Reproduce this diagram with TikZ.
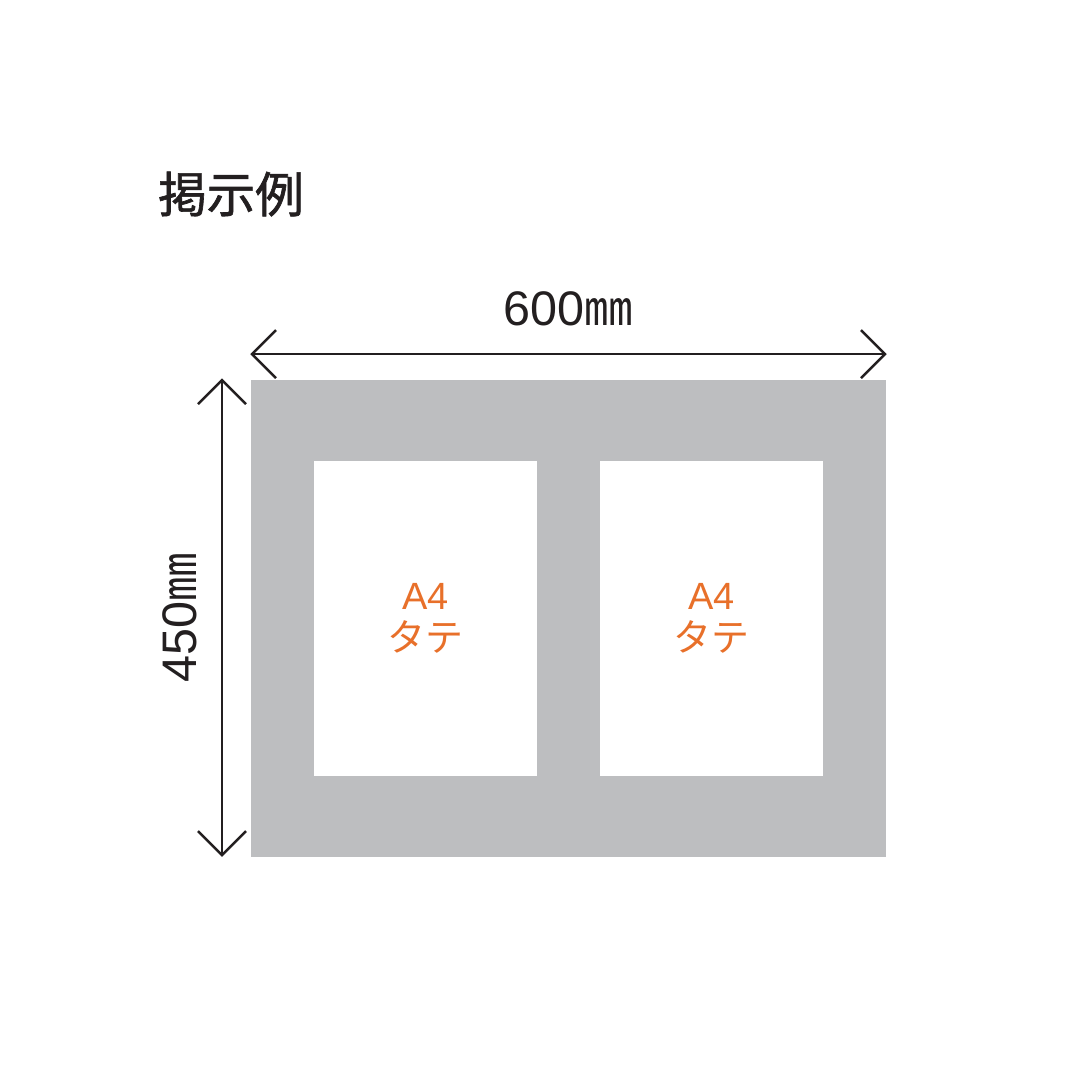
\documentclass[tikz,border=0pt]{standalone}
\usepackage{fontspec}
\usetikzlibrary{calc}
\setmainfont{Liberation Sans}
\newfontfamily\cjk{Noto Sans CJK JP}
\newfontfamily\cjktitle[FakeBold=1.3]{Noto Sans CJK JP}
\definecolor{panelgray}{HTML}{BDBEC0}
\definecolor{labelorange}{HTML}{E8702A}
\definecolor{inkblack}{HTML}{231F20}
\begin{document}
\begin{tikzpicture}[x=0.1mm,y=-0.1mm,
  dimline/.style={draw=inkblack,line width=0.7pt},
  sheet/.style={fill=white,draw=none},
  a4label/.style={text=labelorange,font=\fontsize{10.8pt}{13pt}\selectfont,align=center,inner sep=0pt},
  dimlabel/.style={text=inkblack,font=\fontsize{13.8pt}{16pt}\selectfont,inner sep=0pt}]
\useasboundingbox[fill=white] (0,0) rectangle (1080,1080);
% title
\node[text=inkblack,font=\cjktitle\fontsize{13.8pt}{16pt}\selectfont,inner sep=0pt] (title) at (231,194) {掲示例};
% board
\fill[panelgray] (251,380) rectangle (886,857);
\node[sheet,minimum width=223*0.1mm,minimum height=315*0.1mm,inner sep=0pt] (left) at (425.5,618.5) {};
\node[sheet,minimum width=223*0.1mm,minimum height=315*0.1mm,inner sep=0pt] (right) at (711.5,618.5) {};
\fill[white] (314,461) rectangle (537,776);
\fill[white] (600,461) rectangle (823,776);
\node[a4label] (la) at (left) {A4\\[-1pt]{\cjk タテ}};
\node[a4label] (ra) at (right) {A4\\[-1pt]{\cjk タテ}};
% horizontal dimension
\coordinate (hl) at (252,354);
\coordinate (hr) at (885,354);
\draw[dimline] (hl) -- (hr);
\draw[dimline] ($(hl)+(24,-24)$) -- (hl) -- ($(hl)+(24,24)$);
\draw[dimline] ($(hr)+(-24,-24)$) -- (hr) -- ($(hr)+(-24,24)$);
\node[dimlabel] (wlab) at (568,309) {600{\cjk ㎜}};
% vertical dimension
\coordinate (vt) at (222,380);
\coordinate (vb) at (222,855);
\draw[dimline] (vt) -- (vb);
\draw[dimline] ($(vt)+(-24,24)$) -- (vt) -- ($(vt)+(24,24)$);
\draw[dimline] ($(vb)+(-24,-24)$) -- (vb) -- ($(vb)+(24,-24)$);
\node[dimlabel,rotate=90] (hlab) at (180,618) {450{\cjk ㎜}};
\end{tikzpicture}
\end{document}
